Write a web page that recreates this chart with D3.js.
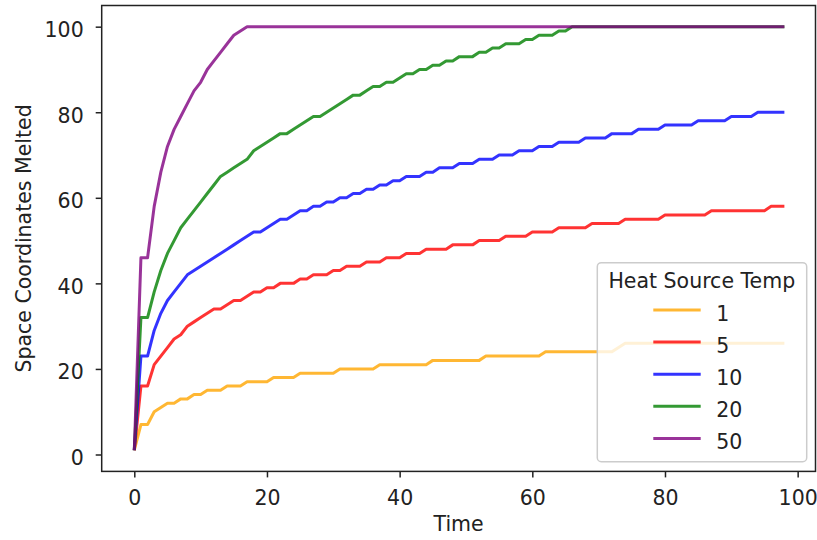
<!DOCTYPE html>
<html>
<head>
<meta charset="utf-8">
<script src="https://cdn.jsdelivr.net/npm/d3@7"></script>
<style>
  html, body { margin: 0; padding: 0; background: #ffffff; }
  text { font-family: "DejaVu Sans", sans-serif; fill: #222222; }
</style>
</head>
<body>
<script>
// ---------------- data ----------------
const seriesNames = ["1", "5", "10", "20", "50"];
const seriesColors = ["#FFA500", "#FF0000", "#0000FF", "#008000", "#800080"];

const temp1 = [1,
  7,7, 10,11, 12,12, 13,13, 14,14, 15,15,15, 16,16,16, 17,17,17,17, 18,18,18,18,
  19,19,19,19,19,19, 20,20,20,20,20,20, 21,21,21,21,21,21,21,21,
  22,22,22,22,22,22,22,22, 23,23,23,23,23,23,23,23,23,
  24,24,24,24,24,24,24,24,24,24,24, 25,
  26,26,26,26,26,26,26,26,26,26,26,26,26,26,26,26,26,26,26,26,26,26,26,26,26];

const temp5 = [1,16,16,21,23,25,27,28,30,31,32,33,34,34,35,36,36,37,38,38,39,39,
  40,40,40, 41,41, 42,42,42, 43,43, 44,44,44, 45,45,45, 46,46,46, 47,47,47,
  48,48,48,48, 49,49,49,49, 50,50,50,50, 51,51,51,51, 52,52,52,52,
  53,53,53,53,53, 54,54,54,54,54, 55,55,55,55,55,55, 56,56,56,56,56,56,56,
  57,57,57,57,57,57,57,57,57, 58,58,58];

const temp10 = [1,23,23,29,33,36,38,40,42,43,44,45,46,47,48,49,50,51,52,52,53,54,55,55,56,
  57,57,58,58,59,59,60,60,61,61,62,62,63,63,64,64,
  65,65,65,66,66,67,67,67,68,68,68,69,69,69,70,70,70,71,71,71,72,72,72,
  73,73,73,73,74,74,74,74,75,75,75,75,76,76,76,76,
  77,77,77,77,77,78,78,78,78,78,79,79,79,79,
  80,80,80,80,80];

const temp20 = [1,32,32,38,43,47,50,53,55,57,59,61,63,65,66,67,68,69,71,72,73,74,75,75,76,77,78,79,79,80,
  81,82,83,84,84,85,86,86,87,87,88,89,89,90,90,91,91,92,92,93,93,93,94,94,95,95,96,96,96,97,
  97,98,98,98,99,99,100,
  100,100,100,100,100,100,100,100,100,100,100,100,100,100,100,100,
  100,100,100,100,100,100,100,100,100,100,100,100,100,100,100,100];

const temp50 = [1,46,46,58,66,72,76,79,82,85,87,90,92,94,96,98,99,
  100,100,100,100,100,100,100,100,100,100,100,100,100,100,100,100,100,100,100,100,
  100,100,100,100,100,100,100,100,100,100,100,100,100,100,100,100,100,100,100,100,
  100,100,100,100,100,100,100,100,100,100,100,100,100,100,100,100,100,100,100,100,
  100,100,100,100,100,100,100,100,100,100,100,100,100,100,100,100,100,100,100,100,
  100,100];

const xTicks = [0, 20, 40, 60, 80, 100];
const yTicks = [0, 20, 40, 60, 80, 100];
const xLabel = "Time";
const yLabel = "Space Coordinates Melted";
const legendTitle = "Heat Source Temp";

// ---------------- drawing ----------------
(function () {
const W = 817, H = 540;
const pLeft = 101.7, pRight = 815.5, pTop = 5.5, pBottom = 471.4;
const FS = 20.5;

const allSeries = [temp1, temp5, temp10, temp20, temp50];

const svg = d3.select("body").append("svg")
  .attr("width", W).attr("height", H);

const x = d3.scaleLinear().domain([-4.914, 102.69]).range([pLeft, pRight]);
const y = d3.scaleLinear().domain([-3.95, 104.95]).range([pBottom, pTop]);

// lines
const line = d3.line().x((d, i) => x(i)).y(d => y(d));
const plot = svg.append("g");
allSeries.forEach((s, k) => {
  plot.append("path")
    .datum(s)
    .attr("d", line)
    .attr("fill", "none")
    .attr("stroke", seriesColors[k])
    .attr("stroke-opacity", 0.8)
    .attr("stroke-width", 3)
    .attr("stroke-linejoin", "round")
    .attr("stroke-linecap", "butt");
});

// axes
const xAxis = svg.append("g")
  .attr("transform", `translate(0,${pBottom})`)
  .call(d3.axisBottom(x).tickValues(xTicks).tickFormat(d3.format("d"))
        .tickSize(6).tickPadding(13).tickSizeOuter(0));
const yAxis = svg.append("g")
  .attr("transform", `translate(${pLeft},0)`)
  .call(d3.axisLeft(y).tickValues(yTicks).tickFormat(d3.format("d"))
        .tickSize(6).tickPadding(12).tickSizeOuter(0));

[xAxis, yAxis].forEach(a => {
  a.select(".domain").remove();
  a.selectAll(".tick line").attr("stroke", "#222").attr("stroke-width", 1.5);
  a.selectAll(".tick text")
    .style("font-family", '"DejaVu Sans", sans-serif')
    .style("font-size", FS + "px")
    .attr("fill", "#222222");
});
xAxis.selectAll(".tick text").attr("dy", "0.71em");
yAxis.selectAll(".tick text").attr("dy", "0.49em");

// frame (all four spines)
svg.append("rect")
  .attr("x", pLeft).attr("y", pTop)
  .attr("width", pRight - pLeft).attr("height", pBottom - pTop)
  .attr("fill", "none").attr("stroke", "#222").attr("stroke-width", 1.5);

// axis labels
svg.append("text")
  .attr("x", (pLeft + pRight) / 2).attr("y", 531)
  .attr("text-anchor", "middle")
  .style("font-size", FS + "px")
  .text(xLabel);

svg.append("text")
  .attr("transform", `translate(31,${(pTop + pBottom) / 2}) rotate(-90)`)
  .attr("text-anchor", "middle")
  .style("font-size", FS + "px")
  .text(yLabel);

// legend
const lg = svg.append("g");
lg.append("rect")
  .attr("x", 597.3).attr("y", 262.7)
  .attr("width", 209.4).attr("height", 199)
  .attr("rx", 4).attr("ry", 4)
  .attr("fill", "#ffffff").attr("fill-opacity", 0.8)
  .attr("stroke", "#cccccc").attr("stroke-width", 1.5);
lg.append("text")
  .attr("x", 701.8).attr("y", 288)
  .attr("text-anchor", "middle")
  .style("font-size", FS + "px")
  .text(legendTitle);
seriesNames.forEach((name, k) => {
  const ly = 310 + k * 32.1;
  lg.append("line")
    .attr("x1", 653.3).attr("x2", 700.7)
    .attr("y1", ly).attr("y2", ly)
    .attr("stroke", seriesColors[k])
    .attr("stroke-opacity", 0.8)
    .attr("stroke-width", 3);
  lg.append("text")
    .attr("x", 716.3).attr("y", ly + 10.5)
    .style("font-size", FS + "px")
    .text(name);
});
})();
</script>
</body>
</html>
